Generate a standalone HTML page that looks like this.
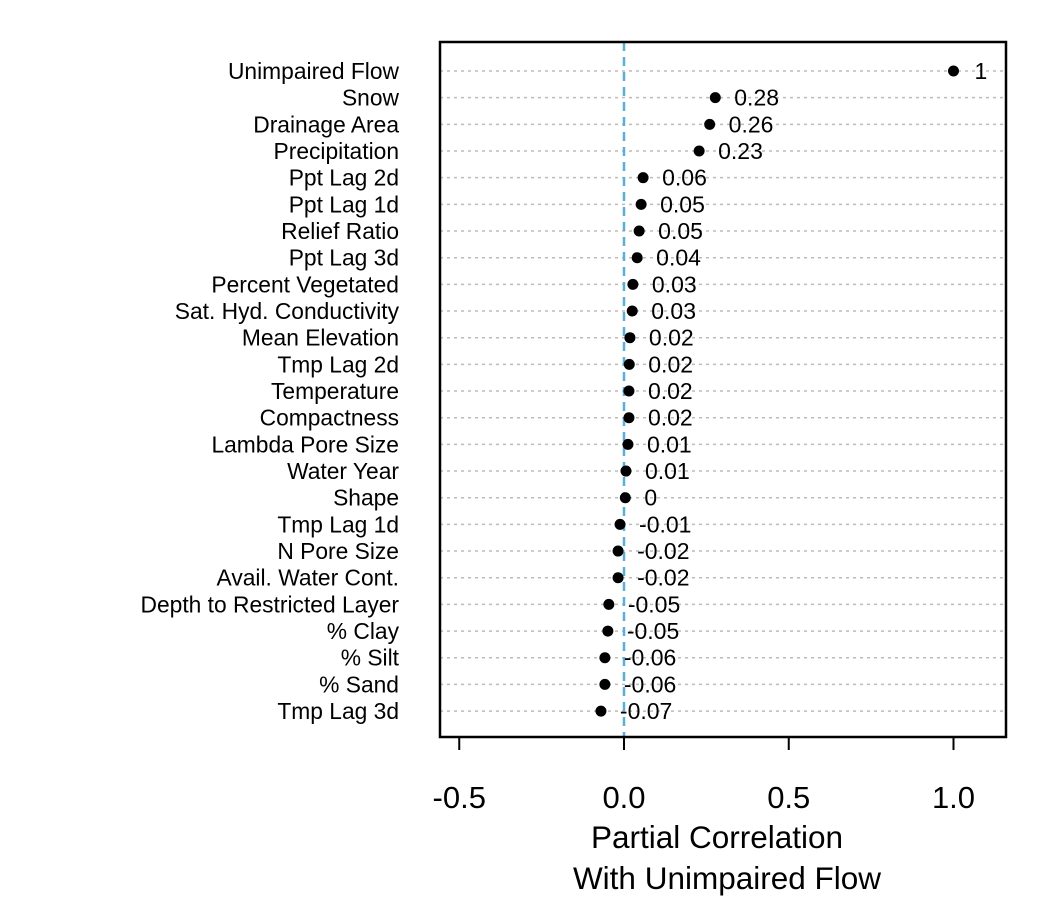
<!DOCTYPE html>
<html><head><meta charset="utf-8"><style>
body{margin:0;background:#fff}
svg{display:block;font-family:"Liberation Sans",Arial,sans-serif}
</style></head><body>
<svg id="chart" width="1050" height="900"></svg>
<script>
const categories=["Unimpaired Flow","Snow","Drainage Area","Precipitation","Ppt Lag 2d","Ppt Lag 1d","Relief Ratio","Ppt Lag 3d","Percent Vegetated","Sat. Hyd. Conductivity","Mean Elevation","Tmp Lag 2d","Temperature","Compactness","Lambda Pore Size","Water Year","Shape","Tmp Lag 1d","N Pore Size","Avail. Water Cont.","Depth to Restricted Layer","% Clay","% Silt","% Sand","Tmp Lag 3d"];
const values=[1,0.277,0.26,0.228,0.058,0.052,0.046,0.04,0.027,0.025,0.018,0.016,0.015,0.015,0.012,0.006,0.004,-0.012,-0.018,-0.018,-0.046,-0.049,-0.058,-0.058,-0.07];
const valueLabels=["1","0.28","0.26","0.23","0.06","0.05","0.05","0.04","0.03","0.03","0.02","0.02","0.02","0.02","0.01","0.01","0","-0.01","-0.02","-0.02","-0.05","-0.05","-0.06","-0.06","-0.07"];
const xTicks=[-0.5,0,0.5,1];
const xTickLabels=["-0.5","0.0","0.5","1.0"];

const NS="http://www.w3.org/2000/svg";
const svg=document.getElementById("chart");
const L=440,R=1006,T=42,B=737;
const x=v=>624+v*329.5;
const y=i=>71+i*26.67;
function mk(tag,attrs,parent){const e=document.createElementNS(NS,tag);for(const k in attrs)e.setAttribute(k,attrs[k]);(parent||svg).appendChild(e);return e;}

categories.forEach((c,i)=>{
  const g=mk("line",{x1:L,x2:R,y1:y(i),y2:y(i),stroke:"#bbb","stroke-width":1.5,"stroke-dasharray":"3,4"});
  
  
});
const z=mk("line",{x1:x(0),x2:x(0),y1:T,y2:B,stroke:"#5aaedb","stroke-width":2.5,"stroke-dasharray":"9,6"});



categories.forEach((c,i)=>{
  const t=mk("text",{x:399,y:y(i)+8,"text-anchor":"end","font-size":22.8,fill:"#000"});
  t.textContent=c;
  
  
  const d=mk("circle",{cx:x(values[i]),cy:y(i),r:5.5,fill:"#000"});
  
  
  const v=mk("text",{x:x(values[i])+(values[i]===1?21:19),y:y(i)+8,"font-size":23,fill:"#000"});
  v.textContent=valueLabels[i];
  
  
});

const box=mk("rect",{x:L,y:T,width:R-L,height:B-T,fill:"none",stroke:"#000","stroke-width":2.5});


const ax=mk("line",{x1:x(xTicks[0]),x2:x(xTicks[xTicks.length-1]),y1:B,y2:B,stroke:"#000","stroke-width":2});


xTicks.forEach((v,i)=>{
  const tk=mk("line",{x1:x(v),x2:x(v),y1:B,y2:B+13,stroke:"#000","stroke-width":2});
  
  
  const tl=mk("text",{x:x(v),y:808,"text-anchor":"middle","font-size":31,fill:"#000"});
  tl.textContent=xTickLabels[i];
  
  
});
const t1=mk("text",{x:717,y:848,"text-anchor":"middle","font-size":31.5,fill:"#000"});
t1.textContent="Partial Correlation";


const t2=mk("text",{x:727,y:889,"text-anchor":"middle","font-size":31.5,fill:"#000"});
t2.textContent="With Unimpaired Flow";


</script>
</body></html>
